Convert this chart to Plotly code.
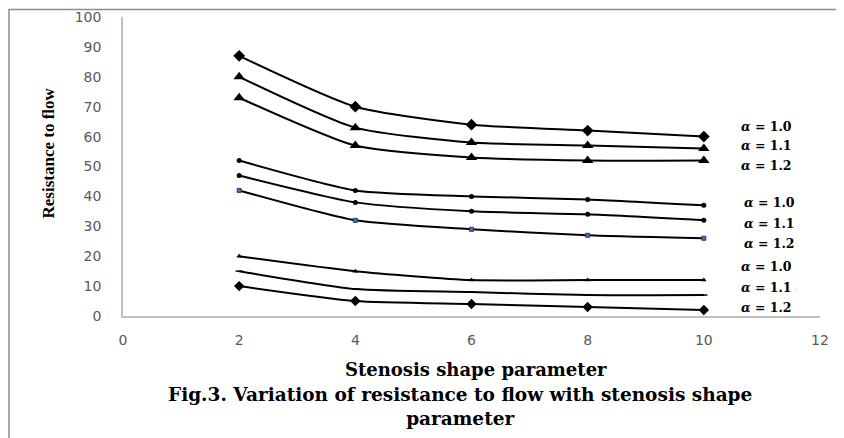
import plotly.graph_objects as go

x_vals = [2, 4, 6, 8, 10]
s1 = [87, 70, 64, 62, 60]
s2 = [80, 63, 58, 57, 56]
s3 = [73, 57, 53, 52, 52]
s4 = [52, 42, 40, 39, 37]
s5 = [47, 38, 35, 34, 32]
s6 = [42, 32, 29, 27, 26]
s7 = [20, 15, 12, 12, 12]
s8 = [15, 9, 8, 7, 7]
s9 = [10, 5, 4, 3, 2]

alpha_vals = ["1.0", "1.1", "1.2"] * 3
label_y = [63.5, 57, 50.5, 37.8, 30.8, 24.4, 16.4, 9.7, 3.0]
label_x = [10.6, 10.6, 10.6, 10.65, 10.65, 10.65, 10.6, 10.6, 10.6]

series = [
    (s1, dict(symbol="diamond", size=9, color="black")),
    (s2, dict(symbol="triangle-up", size=10, color="black")),
    (s3, dict(symbol="triangle-up", size=10, color="black")),
    (s4, dict(symbol="circle", size=5, color="black")),
    (s5, dict(symbol="circle", size=5, color="black")),
    (s6, dict(symbol="square", size=4, color="#4a6fb5", line=dict(color="#1f3b73", width=1))),
    (s7, dict(symbol="triangle-up", size=5, color="black")),
    (s8, dict(symbol="line-ew", size=5, color="black", line=dict(color="black", width=1.5))),
    (s9, dict(symbol="diamond", size=8, color="black")),
]

fig = go.Figure()
for ys, mk in series:
    fig.add_trace(go.Scatter(
        x=x_vals, y=ys, mode="lines+markers",
        line=dict(color="black", width=2, shape="spline", smoothing=0.6),
        marker=mk, showlegend=False,
    ))

for a, lx, ly in zip(alpha_vals, label_x, label_y):
    fig.add_annotation(
        x=lx, y=ly, xref="x", yref="y", text="<b><i>α</i> = " + a + "</b>",
        showarrow=False, xanchor="left", yanchor="middle",
        font=dict(family="DejaVu Serif", size=12.5, color="black"),
    )

# page offset of 8px (body margin) compensated: plot area at px x 123-820, y 17-316
PL, PR, PT, PB = 123, 820, 17, 316
W = PR - PL
H = PB - PT

def px_x(px):
    return (px - PL) / W

def px_y(py):
    return (PB - py) / H

fig.add_annotation(x=px_x(36), y=px_y(153), xref="paper", yref="paper",
                   text="<b>Resistance to flow</b>", textangle=-90, showarrow=False,
                   font=dict(family="Liberation Serif", size=17, color="black"))
fig.add_annotation(x=px_x(476), y=px_y(369), xref="paper", yref="paper",
                   text="<b>Stenosis shape parameter</b>", showarrow=False,
                   yanchor="middle", font=dict(family="DejaVu Serif", size=18, color="black"))
fig.add_annotation(x=px_x(460), y=px_y(406), xref="paper", yref="paper",
                   text="<b>Fig.3. Variation of resistance to flow with stenosis shape<br>parameter</b>",
                   showarrow=False, yanchor="middle", align="center",
                   font=dict(family="DejaVu Serif", size=18.5, color="black"))

# outer frame
fig.add_shape(type="rect", xref="paper", yref="paper",
              x0=px_x(9), x1=px_x(870),
              y0=px_y(470), y1=px_y(9.5),
              line=dict(color="#8c8c8c", width=1.5), fillcolor="rgba(0,0,0,0)", layer="below")

tick_font = dict(family="DejaVu Sans", size=14, color="#595959")
fig.update_layout(
    width=844, height=438,
    margin=dict(l=PL - 8, r=844 - PR + 8, t=PT - 8, b=438 - PB + 8, autoexpand=False),
    plot_bgcolor="white", paper_bgcolor="white",
    xaxis=dict(range=[0, 12], tickvals=[0, 2, 4, 6, 8, 10, 12], showgrid=False,
               zeroline=False, showline=True, linecolor="#bfbfbf", linewidth=1.5,
               tickfont=tick_font, ticks="", ticklabelstandoff=10),
    yaxis=dict(range=[0, 100], tickvals=list(range(0, 101, 10)), showgrid=False,
               zeroline=False, showline=True, linecolor="#bfbfbf", linewidth=1.5,
               tickfont=tick_font, ticks="", ticklabelstandoff=17),
)

fig.write_html("out.html")
